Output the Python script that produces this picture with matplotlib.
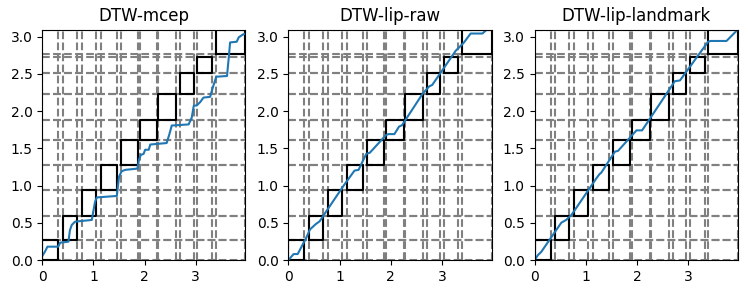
import numpy as np
import matplotlib
matplotlib.use('Agg')
import matplotlib.pyplot as plt

# segment boundaries (seconds) on source (x) and target (y) side
seg_x_start = [0.00, 0.40, 0.77, 1.14, 1.53, 1.90, 2.27, 2.70, 3.03, 3.39]
seg_x_end = [0.31, 0.68, 1.04, 1.45, 1.87, 2.25, 2.62, 2.96, 3.32, 3.97]
seg_y_start = [0.00, 0.265, 0.596, 0.936, 1.281, 1.608, 1.877, 2.222, 2.513, 2.76]
seg_y_end = [0.265, 0.596, 0.936, 1.281, 1.608, 1.877, 2.222, 2.513, 2.728, 3.09]

titles = ['DTW-mcep', 'DTW-lip-raw', 'DTW-lip-landmark']

# warping paths
mcep_x = [0.01, 0.05, 0.10, 0.31, 0.35, 0.51, 0.54, 0.575, 0.64, 0.967, 1.03, 1.065,
          1.456, 1.50, 1.55, 1.62, 1.86, 1.89, 1.925, 1.98, 2.01, 2.08, 2.11, 2.43,
          2.48, 2.53, 2.86, 2.92, 2.96, 3.02, 3.086, 3.15, 3.28, 3.33, 3.40, 3.61,
          3.65, 3.67, 3.80, 3.84, 3.93, 3.97]
mcep_y = [0.067, 0.11, 0.179, 0.179, 0.233, 0.246, 0.40, 0.47, 0.515, 0.538, 0.78, 0.84,
          0.86, 1.12, 1.19, 1.21, 1.227, 1.35, 1.41, 1.425, 1.48, 1.48, 1.55, 1.57,
          1.68, 1.805, 1.82, 1.91, 2.07, 2.075, 2.12, 2.18, 2.19, 2.31, 2.46, 2.47,
          2.76, 2.92, 2.93, 2.99, 3.03, 3.04]

raw_x = [0.0, 0.10, 0.18, 0.345, 0.42, 0.53, 0.61, 0.735, 1.09, 1.29, 1.37, 1.52, 1.59,
         1.91, 1.96, 2.07, 2.16, 2.22, 2.62, 2.75, 2.81, 2.98, 3.27, 3.33, 3.43, 3.56,
         3.79, 3.89]
raw_y = [0.0, 0.08, 0.08, 0.296, 0.41, 0.48, 0.52, 0.65, 1.01, 1.20, 1.21, 1.425, 1.44,
         1.68, 1.69, 1.69, 1.79, 1.81, 2.23, 2.33, 2.35, 2.52, 2.81, 2.85, 2.92, 3.04,
         3.04, 3.10]

lmk_x = [0.0, 0.065, 0.13, 0.29, 0.52, 0.62, 0.72, 1.21, 1.27, 1.30, 1.57, 1.63, 1.99,
         2.10, 2.74, 2.84, 3.39, 3.44, 3.75, 3.98]
lmk_y = [0.0, 0.067, 0.11, 0.27, 0.50, 0.54, 0.605, 1.10, 1.155, 1.17, 1.455, 1.465, 1.74,
         1.74, 2.40, 2.41, 2.93, 2.94, 2.94, 3.10]

paths = [(mcep_x, mcep_y), (raw_x, raw_y), (lmk_x, lmk_y)]

fig, axes = plt.subplots(1, 3, figsize=(7.49, 2.95), dpi=100)
plt.subplots_adjust(left=0.0565, right=0.985, bottom=0.1186, top=0.899, wspace=0.212)

for ax, title, (px, py) in zip(axes, titles, paths):
    for xv in seg_x_start + seg_x_end:
        ax.axvline(xv, color='gray', linestyle='--', linewidth=1.5)
    for yv in seg_y_start + seg_y_end:
        ax.axhline(yv, color='gray', linestyle='--', linewidth=1.5)
    for x0, x1, y0, y1 in zip(seg_x_start, seg_x_end, seg_y_start, seg_y_end):
        ax.plot([x0, x1, x1, x0, x0], [y0, y0, y1, y1, y0], color='k', linewidth=1.5)
    ax.plot(px, py, color='C0', linewidth=1.5)
    ax.set_xlim(0, seg_x_end[-1])
    ax.set_ylim(0, seg_y_end[-1])
    ax.set_xticks([0, 1, 2, 3])
    ax.set_yticks([0.0, 0.5, 1.0, 1.5, 2.0, 2.5, 3.0])
    ax.set_title(title)

plt.savefig('out.png', dpi=100)
